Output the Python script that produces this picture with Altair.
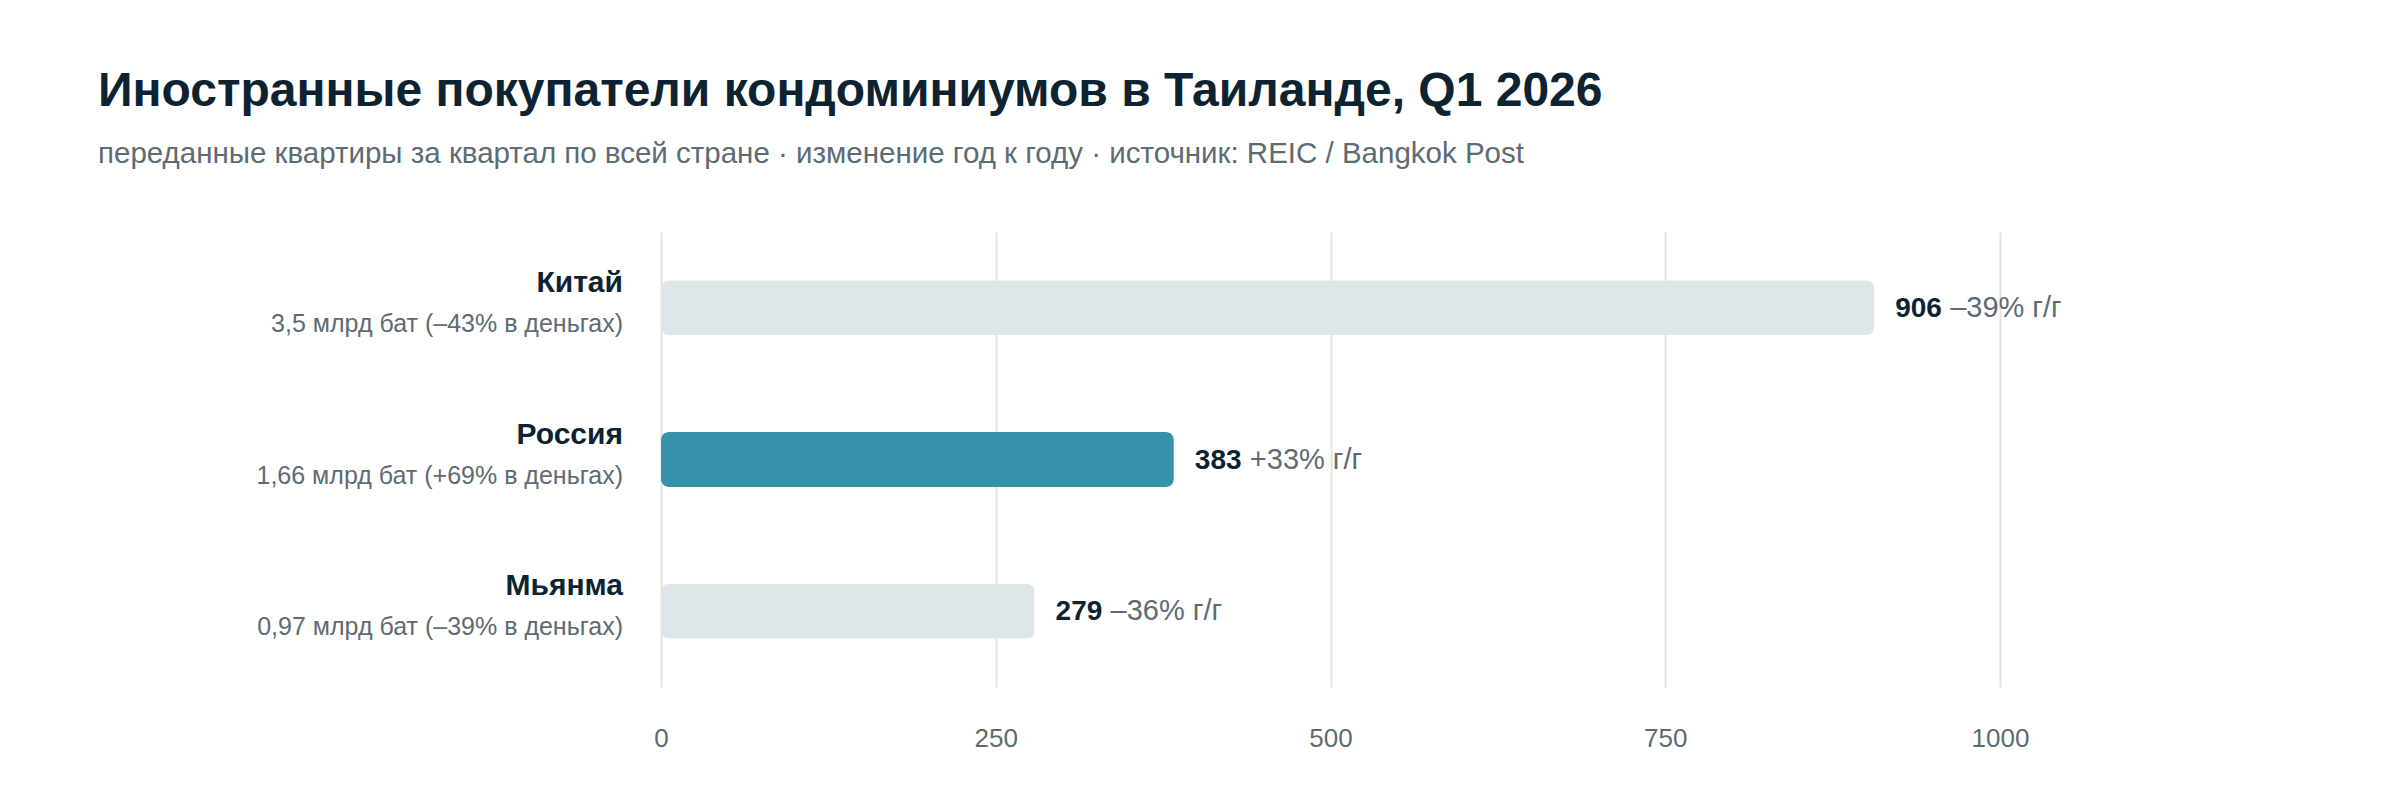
import altair as alt
import pandas as pd

countries = ["Китай", "Россия", "Мьянма"]
units = [906, 383, 279]
yoy = ["–39%", "+33%", "–36%"]
money_bn = ["3,5", "1,66", "0,97"]
money_chg = ["–43%", "+69%", "–39%"]
highlight = [False, True, False]
x_ticks = [0, 250, 500, 750, 1000]

df = pd.DataFrame({
    "country": countries,
    "units": units,
    "yoy": [f"{v} г/г" for v in yoy],
    "money": [f"{b} млрд бат ({c} в деньгах)" for b, c in zip(money_bn, money_chg)],
    "hl": highlight,
})

FONT = "Liberation Sans"
DARK = "#0e2331"
GRAY = "#5d6b73"

y_enc = alt.Y("country:N", sort=countries, axis=None,
              scale=alt.Scale(paddingInner=0, paddingOuter=0))

base = alt.Chart(df)

bars = base.mark_bar(height=55, cornerRadius=8).encode(
    x=alt.X("units:Q", scale=alt.Scale(domain=[0, 1000], nice=False),
            axis=alt.Axis(values=x_ticks, title=None, grid=True, gridColor="#e3e3e3",
                          gridWidth=2, domain=False, ticks=False, labelPadding=38,
                          labelFlush=False, format="d",
                          labelFontSize=26, labelColor=GRAY, labelFont=FONT)),
    y=y_enc,
    color=alt.condition(alt.datum.hl, alt.value("#3692ab"), alt.value("#dde7e9")),
)

num = base.mark_text(align="left", baseline="alphabetic", dx=21, dy=9,
                     fontSize=28, fontWeight="bold", color=DARK, font=FONT).encode(
    x="units:Q", y=y_enc, text="units:Q")

yoy_t = base.mark_text(align="left", baseline="alphabetic", dx=76, dy=9,
                       fontSize=29, color=GRAY, font=FONT).encode(
    x="units:Q", y=y_enc, text="yoy:N")

name_t = base.mark_text(align="right", baseline="alphabetic", dy=-16,
                        fontSize=30, fontWeight="bold", color=DARK, font=FONT).encode(
    x=alt.value(-38), y=y_enc, text="country:N")

money_t = base.mark_text(align="right", baseline="alphabetic", dy=24,
                         fontSize=25, color=GRAY, font=FONT).encode(
    x=alt.value(-38), y=y_enc, text="money:N")

chart = alt.layer(bars, num, yoy_t, name_t, money_t).properties(
    width=1339, height=455,
    title=alt.Title(
        "Иностранные покупатели кондоминиумов в Таиланде, Q1 2026",
        subtitle="переданные квартиры за квартал по всей стране · изменение год к году · источник: REIC / Bangkok Post",
        anchor="start", frame="group", dx=-563, offset=64,
        font=FONT, fontSize=48, fontWeight="bold", color=DARK,
        subtitleFont=FONT, subtitleFontSize=29.5, subtitleColor=GRAY, subtitlePadding=24,
    ),
    padding={"left": 653, "top": 224, "right": 392, "bottom": 105},
    autosize=alt.AutoSizeParams(type="none"),
).configure(background="white").configure_view(stroke=None, strokeWidth=0)

chart.save("out.html", embed_options={"renderer": "svg", "actions": False})
